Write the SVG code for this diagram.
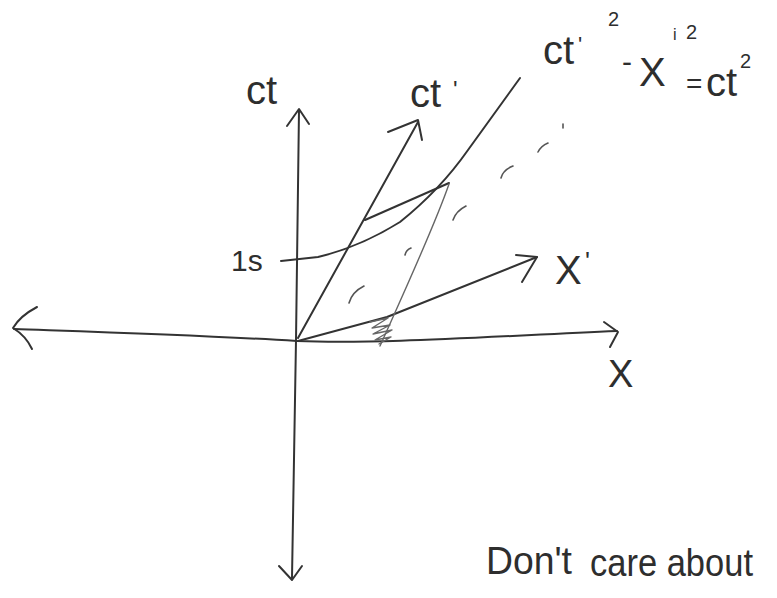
<svg xmlns="http://www.w3.org/2000/svg" width="777" height="598" viewBox="0 0 777 598">
  <style>
    .ink { fill: none; stroke: #333; stroke-width: 2; stroke-linecap: round; stroke-linejoin: round; }
    .thin { fill: none; stroke: #666; stroke-width: 1.4; stroke-linecap: round; stroke-linejoin: round; }
    .dash { fill: none; stroke: #555; stroke-width: 1.6; stroke-linecap: round; }
    .lbl { font-family: "Liberation Sans", "DejaVu Sans", sans-serif; fill: #2e2e2e; }
  </style>
  <rect width="777" height="598" fill="#ffffff"/>

  <g id="connectors">
    <!-- ct axis (vertical) -->
    <path class="ink" d="M 299 110 L 296 340 L 292 578"/>
    <path class="ink" d="M 287 126 L 299 109 L 309 124"/>
    <path class="ink" d="M 279 566 L 292 580 L 302 566"/>
    <!-- x axis (horizontal) -->
    <path class="ink" d="M 14 329 C 100 332, 200 335, 297 341 C 380 344, 480 337, 617 331"/>
    <path class="ink" d="M 37 307 Q 20 316 13 328 Q 26 336 32 349"/>
    <path class="ink" d="M 604 322 L 618 332 L 610 347"/>
    <!-- ct' axis -->
    <path class="ink" d="M 298 338 L 418 122"/>
    <path class="ink" d="M 388 132 L 418 120 L 422 140"/>
    <!-- x' axis -->
    <path class="ink" d="M 298 341 L 387 317 L 537 257"/>
    <path class="ink" d="M 516 255 L 537 257 L 522 282"/>
    <!-- 1s tick and hyperbola -->
    <path class="ink" d="M 281 261 L 318 257 Q 360 247 400 222 Q 440 190 468 150 L 520 78" stroke-width="2.2"/>
    <!-- simultaneity segment -->
    <path class="ink" d="M 365 220 L 449 183"/>
    <!-- thin projection line -->
    <path class="thin" d="M 449 184 C 435 225, 405 290, 380 346"/>
    <!-- dashed hyperbola -->
    <path class="dash" d="M 349 303 Q 352 292 364 286"/>
    <path class="dash" d="M 405 255 Q 406 250 411 248"/>
    <path class="dash" d="M 453 220 Q 456 211 466 206"/>
    <path class="dash" d="M 501 178 Q 503 170 513 166"/>
    <path class="dash" d="M 538 152 Q 541 146 548 143"/>
    <path class="dash" d="M 563 124 L 563 128"/>
    <!-- shaded scribble -->
    <path class="thin" stroke="#888" stroke-width="1.6" d="M 370 322 L 388 318 L 372 328 L 390 325 L 373 334 L 392 330 L 375 340 L 391 337 L 379 344"/>
  </g>

  <g id="label-ct">
    <text class="lbl" x="246" y="104" font-size="40">ct</text>
  </g>
  <g id="label-ctprime">
    <text class="lbl" x="410" y="107" font-size="40">ct</text>
    <text class="lbl" x="453" y="98" font-size="24">'</text>
  </g>
  <g id="label-equation">
    <text class="lbl" x="543" y="64" font-size="40">ct</text>
    <text class="lbl" x="578" y="52" font-size="22">'</text>
    <text class="lbl" x="608" y="26" font-size="20">2</text>
    <text class="lbl" x="622" y="72" font-size="30">-</text>
    <text class="lbl" x="639" y="86" font-size="40">X</text>
    <text class="lbl" x="673" y="40" font-size="16">i</text>
    <text class="lbl" x="686" y="39" font-size="20">2</text>
    <text class="lbl" x="686" y="93" font-size="28">=</text>
    <text class="lbl" x="706" y="96" font-size="40">ct</text>
    <text class="lbl" x="740" y="68" font-size="20">2</text>
  </g>
  <g id="label-1s">
    <text class="lbl" x="231" y="271" font-size="30">1s</text>
  </g>
  <g id="label-xprime">
    <text class="lbl" x="555" y="284" font-size="40">X</text>
    <text class="lbl" x="585" y="270" font-size="26">'</text>
  </g>
  <g id="label-x">
    <text class="lbl" x="608" y="387" font-size="38">X</text>
  </g>
  <g id="label-note">
    <text class="lbl" x="486" y="574" font-size="38" textLength="86" lengthAdjust="spacingAndGlyphs">Don't</text>
    <text class="lbl" x="590" y="576" font-size="38" textLength="163" lengthAdjust="spacingAndGlyphs">care about</text>
  </g>
</svg>
